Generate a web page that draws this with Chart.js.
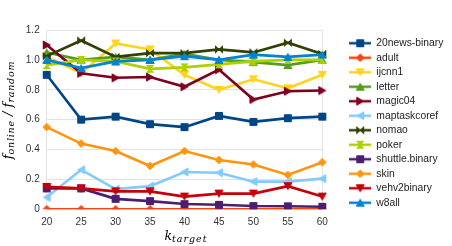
<!DOCTYPE html>
<html><head><meta charset="utf-8">
<script src="https://cdn.jsdelivr.net/npm/chart.js@4/dist/chart.umd.min.js"></script>
<style>html,body{margin:0;padding:0;background:#fff}#wrap{width:452px;height:246px;position:relative}</style>
</head><body><div id="wrap"><canvas id="c" width="452" height="246"></canvas></div>
<script>
const kTarget = ['20','25','30','35','40','45','50','55','60'];
const yTicks = [0, 0.2, 0.4, 0.6, 0.8, 1, 1.2];
const seriesNames = ['20news-binary','adult','ijcnn1','letter','magic04','maptaskcoref','nomao','poker','shuttle.binary','skin','vehv2binary','w8all'];
const news20 = [0.90, 0.60, 0.62, 0.57, 0.55, 0.625, 0.585, 0.61, 0.62];
const adult = [0, 0, 0, 0, 0, 0, 0, 0, 0];
const ijcnn1 = [1.02, 0.91, 1.11, 1.07, 0.90, 0.80, 0.87, 0.81, 0.90];
const letter = [1.05, 1.00, 1.02, 1.00, 1.04, 1.00, 0.985, 0.965, 1.00];
const magic04 = [1.10, 0.91, 0.88, 0.885, 0.82, 0.935, 0.735, 0.79, 0.795];
const maptaskcoref = [0.08, 0.265, 0.135, 0.155, 0.25, 0.245, 0.185, 0.185, 0.205];
const nomao = [1.025, 1.13, 1.02, 1.045, 1.045, 1.07, 1.05, 1.115, 1.04];
const poker = [0.965, 1.00, 0.99, 0.94, 0.95, 0.97, 0.99, 1.00, 1.00];
const shuttleBinary = [0.14, 0.14, 0.07, 0.055, 0.035, 0.03, 0.022, 0.02, 0.017];
const skin = [0.55, 0.44, 0.39, 0.29, 0.39, 0.33, 0.30, 0.23, 0.315];
const vehv2binary = [0.15, 0.14, 0.12, 0.12, 0.085, 0.105, 0.105, 0.155, 0.085];
const w8all = [1.00, 0.945, 0.99, 1.00, 1.025, 1.00, 1.035, 1.02, 1.035];

const seriesValues = [news20, adult, ijcnn1, letter, magic04, maptaskcoref, nomao, poker, shuttleBinary, skin, vehv2binary, w8all];
const colors = ['#004586','#ff420e','#ffd320','#579d1c','#7e0021','#83caff','#314004','#aecf00','#4b1f6f','#ff950e','#c5000b','#0084d1'];
const markers = ['rect','rectRot','down','up','right','left','bowtie','hourglass','rect','rectRot','down','up'];

function drawMarker(ctx, kind, x, y, color) {
  ctx.save();
  ctx.fillStyle = color; ctx.strokeStyle = color; ctx.lineWidth = 1;
  const r = 4;
  ctx.beginPath();
  if (kind === 'rect') {
    ctx.rect(x - 3.5, y - 3.5, 7, 7);
  } else if (kind === 'rectRot') {
    ctx.moveTo(x, y - 3.8); ctx.lineTo(x + 3.8, y); ctx.lineTo(x, y + 3.8); ctx.lineTo(x - 3.8, y); ctx.closePath();
  } else if (kind === 'down') {
    ctx.moveTo(x - r, y - 3.5); ctx.lineTo(x + r, y - 3.5); ctx.lineTo(x, y + 3.5); ctx.closePath();
  } else if (kind === 'up') {
    ctx.moveTo(x - r, y + 3.5); ctx.lineTo(x + r, y + 3.5); ctx.lineTo(x, y - 3.5); ctx.closePath();
  } else if (kind === 'right') {
    ctx.moveTo(x - 3.5, y - r); ctx.lineTo(x - 3.5, y + r); ctx.lineTo(x + 3.5, y); ctx.closePath();
  } else if (kind === 'left') {
    ctx.moveTo(x + 3.5, y - r); ctx.lineTo(x + 3.5, y + r); ctx.lineTo(x - 3.5, y); ctx.closePath();
  } else if (kind === 'bowtie') {
    ctx.moveTo(x - 3.5, y - 3.5); ctx.lineTo(x + 3.5, y + 3.5); ctx.lineTo(x + 3.5, y - 3.5); ctx.lineTo(x - 3.5, y + 3.5); ctx.closePath();
  } else if (kind === 'hourglass') {
    ctx.moveTo(x - 3.5, y - 3.5); ctx.lineTo(x + 3.5, y - 3.5); ctx.lineTo(x - 3.5, y + 3.5); ctx.lineTo(x + 3.5, y + 3.5); ctx.closePath();
  }
  ctx.fill(); ctx.stroke();
  ctx.restore();
}
function markerCanvas(kind, color) {
  const c = document.createElement('canvas'); c.width = 10; c.height = 10;
  drawMarker(c.getContext('2d'), kind, 5, 5, color);
  return c;
}
function legendCanvas(kind, color) {
  const c = document.createElement('canvas'); c.width = 22; c.height = 10;
  const ctx = c.getContext('2d');
  ctx.strokeStyle = color; ctx.lineWidth = 2.5;
  ctx.beginPath(); ctx.moveTo(0, 5); ctx.lineTo(22, 5); ctx.stroke();
  drawMarker(ctx, kind, 11, 5, color);
  return c;
}

const datasets = seriesNames.map((name, i) => ({
  label: name,
  data: seriesValues[i],
  borderColor: colors[i],
  backgroundColor: colors[i],
  borderWidth: 2.6,
  pointStyle: markerCanvas(markers[i], colors[i]),
  pointRadius: 4,
  pointHoverRadius: 4,
  tension: 0,
  order: seriesNames.length - i
}));

const LEGEND_W = 452 - 322.3;
const LEGEND_LEFT = 345;
const fixLegend = {
  id: 'fixLegend',
  beforeLayout(chart) {
    const lg = chart.legend;
    if (lg && !lg._patched) {
      const f = lg.fit;
      lg.fit = function () { f.call(this); this.width = LEGEND_W; };
      lg._patched = true;
    }
  },
  afterLayout(chart) {
    const lg = chart.legend;
    if (lg) { lg.left = LEGEND_LEFT; lg.top = 0; lg.bottom = 246; lg.height = 246; }
  }
};

function drawMath(ctx, parts, x, y) {
  let cx = x;
  parts.forEach(p => {
    ctx.font = 'italic ' + p.size + 'px "DejaVu Serif"';
    ctx.letterSpacing = (p.ls || 0) + 'px';
    ctx.fillText(p.t, cx, y + (p.dy || 0));
    cx += ctx.measureText(p.t).width;
  });
  ctx.letterSpacing = '0px';
  return cx - x;
}
function mathWidth(ctx, parts) {
  let w = 0;
  parts.forEach(p => {
    ctx.font = 'italic ' + p.size + 'px "DejaVu Serif"';
    ctx.letterSpacing = (p.ls || 0) + 'px';
    w += ctx.measureText(p.t).width;
  });
  ctx.letterSpacing = '0px';
  return w;
}
const axisTitles = {
  id: 'axisTitles',
  afterDraw(chart) {
    const ctx = chart.ctx;
    ctx.save();
    ctx.fillStyle = '#000';
    ctx.textBaseline = 'alphabetic';
    ctx.textAlign = 'left';
    const xParts = [{t: 'k', size: 12.5}, {t: 'target', size: 9.5, dy: 2, ls: 1}];
    const xw = mathWidth(ctx, xParts);
    drawMath(ctx, xParts, 186 - xw / 2, 240);
    const yParts = [{t: 'f', size: 13}, {t: 'online', size: 9.5, dy: 2, ls: 0.8}, {t: ' / ', size: 13}, {t: 'f', size: 13}, {t: 'random', size: 9.5, dy: 2, ls: 0.8}];
    const yw = mathWidth(ctx, yParts);
    ctx.translate(12, 110);
    ctx.rotate(-Math.PI / 2);
    drawMath(ctx, yParts, -yw / 2, 0);
    ctx.restore();
  }
};

const gridColor = '#e3e3e3';
new Chart(document.getElementById('c'), {
  type: 'line',
  data: { labels: kTarget, datasets },
  plugins: [fixLegend, axisTitles],
  options: {
    responsive: false,
    animation: false,
    layout: { padding: { top: 30, left: 0, right: 0, bottom: 0 } },
    scales: {
      x: {
        type: 'category',
        offset: false,
        grid: { display: true, drawTicks: false, color: c => (c.index === kTarget.length - 1 ? gridColor : 'rgba(0,0,0,0)'), lineWidth: 1 },
        border: { display: false },
        ticks: { padding: 7, color: '#333', font: { family: 'Liberation Sans', size: 10 }, maxRotation: 0, autoSkip: false },
        afterFit(s) { s.height = 246 - 209.3; }
      },
      y: {
        min: 0, max: 1.2,
        afterBuildTicks(s) { s.ticks = yTicks.map(v => ({ value: v })); },
        grid: { color: gridColor, drawTicks: false, lineWidth: 1 },
        border: { display: true, color: gridColor },
        ticks: { padding: 7, color: '#333', font: { family: 'Liberation Sans', size: 10 } },
        afterFit(s) { s.width = 46.7; }
      }
    },
    plugins: {
      tooltip: { enabled: false },
      legend: {
        display: true,
        position: 'right',
        align: 'center',
        labels: {
          usePointStyle: true,
          pointStyleWidth: 22,
          padding: 4.2,
          color: '#222',
          font: { family: 'Liberation Sans', size: 10.3 },
          generateLabels(chart) {
            return seriesNames.map((n, i) => ({
              text: n,
              fillStyle: colors[i],
              strokeStyle: colors[i],
              lineWidth: 0,
              pointStyle: legendCanvas(markers[i], colors[i]),
              hidden: false,
              datasetIndex: i,
              fontColor: '#222'
            }));
          }
        }
      }
    }
  }
});
</script></body></html>
